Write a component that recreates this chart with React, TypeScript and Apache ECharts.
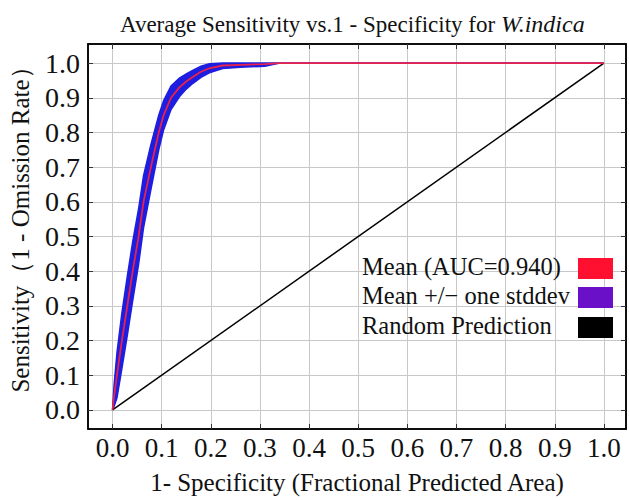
import React, { useEffect, useRef } from "react";
import * as echarts from "echarts";

// 1 - specificity (fractional predicted area)
const fpr = [0, 0.003, 0.009, 0.019, 0.03, 0.041, 0.053, 0.063, 0.078, 0.094, 0.104, 0.119, 0.136, 0.15, 0.163, 0.18, 0.197, 0.224, 0.26, 0.31, 0.34, 0.4, 0.5, 0.6, 0.7, 0.8, 0.9, 1.0];
// mean sensitivity
const meanSens = [0, 0.04, 0.1, 0.2, 0.3, 0.4, 0.5, 0.6, 0.7, 0.8, 0.85, 0.9, 0.93, 0.947, 0.96, 0.975, 0.985, 0.993, 0.995, 0.997, 1, 1, 1, 1, 1, 1, 1, 1];
// one standard deviation
const sdSens = [0, 0.03, 0.065, 0.08, 0.085, 0.085, 0.08, 0.075, 0.065, 0.05, 0.042, 0.034, 0.027, 0.022, 0.019, 0.016, 0.013, 0.009, 0.007, 0.006, 0, 0, 0, 0, 0, 0, 0, 0];
// random prediction line
const randomX = [0, 1];
const randomY = [0, 1];
// tick values
const tickValues = [0, 0.1, 0.2, 0.3, 0.4, 0.5, 0.6, 0.7, 0.8, 0.9, 1.0];
const legendLabels = ["Mean (AUC=0.940)", "Mean +/\u2212 one stddev", "Random Prediction"];
const legendColors = ["#ff1030", "#6a10c8", "#000000"];

const FONT = "'Liberation Serif', 'Times New Roman', serif";

export default function App() {
  const ref = useRef<HTMLDivElement>(null);
  useEffect(() => {
    if (!ref.current) return;
    const chart = echarts.init(ref.current, undefined, { renderer: "svg" });
    const lower = meanSens.map((m, i) => Math.max(0, m - sdSens[i]));
    const upper = meanSens.map((m, i) => Math.min(1, m + sdSens[i]));
    const axisCommon = {
      type: "value" as const,
      axisLine: { show: true, onZero: false, lineStyle: { color: "#000", width: 1.5 } },
      axisTick: { show: true, inside: true, length: 5, customValues: tickValues, lineStyle: { color: "#333" } },
    };
    const legendGraphics: any[] = [];
    const rowsY = [268, 297, 327];
    legendLabels.forEach((l, i) => {
      legendGraphics.push({
        type: "text",
        z: 100,
        left: 362,
        top: rowsY[i] - 14,
        style: { text: l, fontFamily: FONT, fontSize: 24.5, fill: "#111" },
      });
      legendGraphics.push({
        type: "rect",
        z: 100,
        shape: { x: 578, y: rowsY[i] - 10, width: 35, height: 21 },
        style: { fill: legendColors[i] },
      });
    });
    chart.setOption({
      animation: false,
      backgroundColor: "#fff",
      title: {
        left: 115,
        top: 7,
        text: "{n|Average Sensitivity vs.1 - Specificity for }{i|W.indica}",
        textStyle: {
          fontWeight: "normal",
          rich: {
            n: { fontFamily: FONT, fontSize: 23, fontWeight: "normal", color: "#111" },
            i: { fontFamily: FONT, fontSize: 24, fontWeight: "normal", fontStyle: "italic", color: "#111" },
          },
        },
      },
      grid: { left: 88, right: 3, top: 44, bottom: 63, show: true, borderColor: "#000", borderWidth: 1.5 },
      xAxis: [
        {
          ...axisCommon,
          min: -0.05,
          max: 1.045,
          name: "1- Specificity (Fractional Predicted Area)",
          nameLocation: "middle",
          nameGap: 41,
          nameTextStyle: { fontFamily: FONT, fontSize: 25, color: "#111" },
          axisLabel: { customValues: tickValues, formatter: (v: number) => v.toFixed(1), fontFamily: FONT, fontSize: 27, color: "#111", margin: 5 },
          splitLine: { show: true, customValues: tickValues, lineStyle: { color: "#c8c8c8", width: 1 } },
        },
        {
          ...axisCommon,
          position: "top",
          min: -0.05,
          max: 1.045,
          axisLabel: { show: false },
          splitLine: { show: false },
        },
      ],
      yAxis: [
        {
          ...axisCommon,
          min: -0.055,
          max: 1.055,
          name: "Sensitivity\uFF081 - Omission Rate\uFF09",
          nameLocation: "middle",
          nameGap: 55,
          nameTextStyle: { fontFamily: FONT, fontSize: 25, color: "#111", padding: [0, 0, 0, 26] },
          axisLabel: { customValues: tickValues, formatter: (v: number) => v.toFixed(1), fontFamily: FONT, fontSize: 28, color: "#111", margin: 8 },
          splitLine: { show: true, customValues: tickValues, lineStyle: { color: "#c8c8c8", width: 1 } },
        },
        {
          ...axisCommon,
          position: "right",
          min: -0.055,
          max: 1.055,
          axisLabel: { show: false },
          splitLine: { show: false },
        },
      ],
      series: [
        {
          name: "Random Prediction",
          type: "line",
          data: randomX.map((x, i) => [x, randomY[i]]),
          symbol: "none",
          lineStyle: { color: "#000", width: 1.5 },
        },
        {
          name: "Mean +/\u2212 one stddev",
          type: "custom",
          data: fpr.map((x, i) => [x, upper[i], lower[i]]),
          encode: { x: 0, y: [1, 2] },
          renderItem: (params: any, api: any) => {
            if (params.dataIndex !== 0) return null;
            const top = fpr.map((x, i) => api.coord([x, upper[i]]));
            const bot = fpr.map((x, i) => api.coord([x, lower[i]])).reverse();
            return {
              type: "polygon",
              shape: { points: top.concat(bot) },
              style: { fill: "#1e1ee0", stroke: "#1e1ee0", lineWidth: 1.5 },
            };
          },
        },
        {
          name: "Mean (AUC=0.940)",
          type: "line",
          data: fpr.map((x, i) => [x, meanSens[i]]),
          symbol: "none",
          z: 5,
          lineStyle: { color: "#e8224a", width: 1.8 },
        },
      ],
      graphic: legendGraphics,
    });
    return () => chart.dispose();
  }, []);
  return <div ref={ref} style={{ position: "fixed", left: 0, top: 0, width: 629, height: 500 }} />;
}
